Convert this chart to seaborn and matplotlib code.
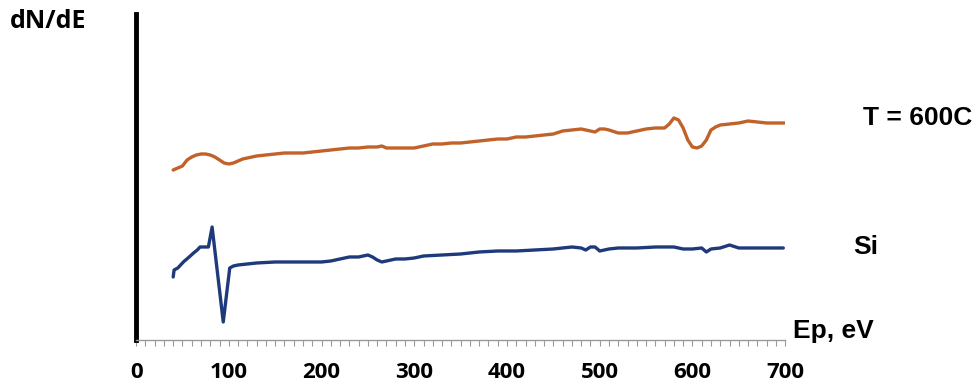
import numpy as np
import pandas as pd
import matplotlib
matplotlib.use("Agg")
import matplotlib.pyplot as plt
import seaborn as sns
from matplotlib.ticker import MultipleLocator

# ==============================================================================
# DATA (dN/dE, arbitrary units)
# ==============================================================================
ep_600c = [40, 45, 50, 55, 60, 65, 70, 75, 80, 85, 90, 95, 100, 105, 110, 115,
           120, 130, 140, 150, 160, 170, 180, 190, 200, 210, 220, 230, 240, 250,
           260, 265, 270, 280, 290, 300, 310, 320, 330, 340, 350, 360, 370, 380,
           390, 400, 410, 420, 430, 440, 450, 460, 470, 480, 490, 495, 500, 505,
           510, 520, 530, 540, 550, 560, 570, 575, 580, 585, 590, 595, 600, 605,
           610, 615, 620, 625, 630, 640, 650, 660, 670, 680, 690, 700, 705]
dnde_600c = [170, 172, 174, 180, 183, 185, 186, 186, 185, 183, 180, 177, 176, 177,
             179, 181, 182, 184, 185, 186, 187, 187, 187, 188, 189, 190, 191, 192,
             192, 193, 193, 194, 192, 192, 192, 192, 194, 196, 196, 197, 197, 198,
             199, 200, 201, 201, 203, 203, 204, 205, 206, 209, 210, 211, 209, 208,
             211, 211, 210, 207, 207, 209, 211, 212, 212, 216, 222, 220, 212, 200,
             193, 192, 194, 200, 210, 213, 215, 216, 217, 219, 218, 217, 217, 217, 219]

ep_si = [40, 41, 45, 51, 56, 62, 66, 69, 72, 78, 82, 94, 101, 105, 110, 120,
         130, 150, 180, 200, 210, 220, 230, 240, 250, 255, 260, 265, 270, 280,
         290, 300, 310, 330, 350, 370, 390, 410, 430, 450, 470, 480, 485, 490,
         495, 500, 510, 520, 540, 560, 580, 590, 600, 610, 615, 620, 630, 640,
         650, 660, 680, 698]
dnde_si = [63, 70, 72, 78, 82, 87, 90, 93, 93, 93, 113, 18, 72, 74, 75, 76, 77,
           78, 78, 78, 79, 81, 83, 83, 85, 83, 80, 78, 79, 81, 81, 82, 84, 85, 86,
           88, 89, 89, 90, 91, 93, 92, 90, 93, 93, 89, 91, 92, 92, 93, 93, 91, 91,
           92, 88, 91, 92, 95, 92, 92, 92, 92]

x_ticks = [0, 100, 200, 300, 400, 500, 600, 700]

# ==============================================================================
# FIGURE
# ==============================================================================
sns.set_style("white")
plt.rcParams["font.family"] = ["DejaVu Sans"]
plt.rcParams["text.color"] = "black"
plt.rcParams["xtick.labelcolor"] = "black"

fig = plt.figure(figsize=(9.79, 3.89), dpi=100)
ax = fig.add_axes([0.139, 0.126, 0.663, 0.838])

sns.lineplot(x=ep_600c, y=dnde_600c, color="#C0622A", linewidth=2.4, ax=ax)
sns.lineplot(x=ep_si, y=dnde_si, color="#1E3A7B", linewidth=2.4, ax=ax)

ax.set_xlim(0, 700)
ax.set_ylim(0, 326)

# axes styling: thick black y spine, thin grey x spine
for side in ["top", "right"]:
    ax.spines[side].set_visible(False)
ax.spines["left"].set_color("black")
ax.spines["left"].set_linewidth(3.5)
ax.spines["bottom"].set_color("#9a9a9a")
ax.spines["bottom"].set_linewidth(1.0)
ax.set_yticks([])

ax.xaxis.set_minor_locator(MultipleLocator(10))
ax.set_xticks(x_ticks)
ax.set_xticklabels([str(t) for t in x_ticks], fontfamily="Open Sans",
                   fontweight="bold", fontsize=16, color="black")
ax.tick_params(axis="x", which="both", direction="out", length=4, width=0.8,
               color="#9a9a9a", pad=12, bottom=True)

# labels
fig.text(10 / 979, 1 - 22 / 389, "dN/dE", fontfamily="Open Sans",
         fontweight="bold", fontsize=18, va="center", ha="left", color="black")
fig.text(863 / 979, 1 - 118 / 389, "T = 600C", fontfamily="Liberation Sans",
         fontweight="bold", fontsize=19, va="center", ha="left", color="black")
fig.text(853 / 979, 1 - 247 / 389, "Si", fontfamily="Liberation Sans",
         fontweight="bold", fontsize=19, va="center", ha="left", color="black")
fig.text(793 / 979, 1 - 331 / 389, "Ep, eV", fontfamily="Liberation Sans",
         fontweight="bold", fontsize=19, va="center", ha="left", color="black")

fig.savefig("out.png", dpi=100)
plt.close(fig)
